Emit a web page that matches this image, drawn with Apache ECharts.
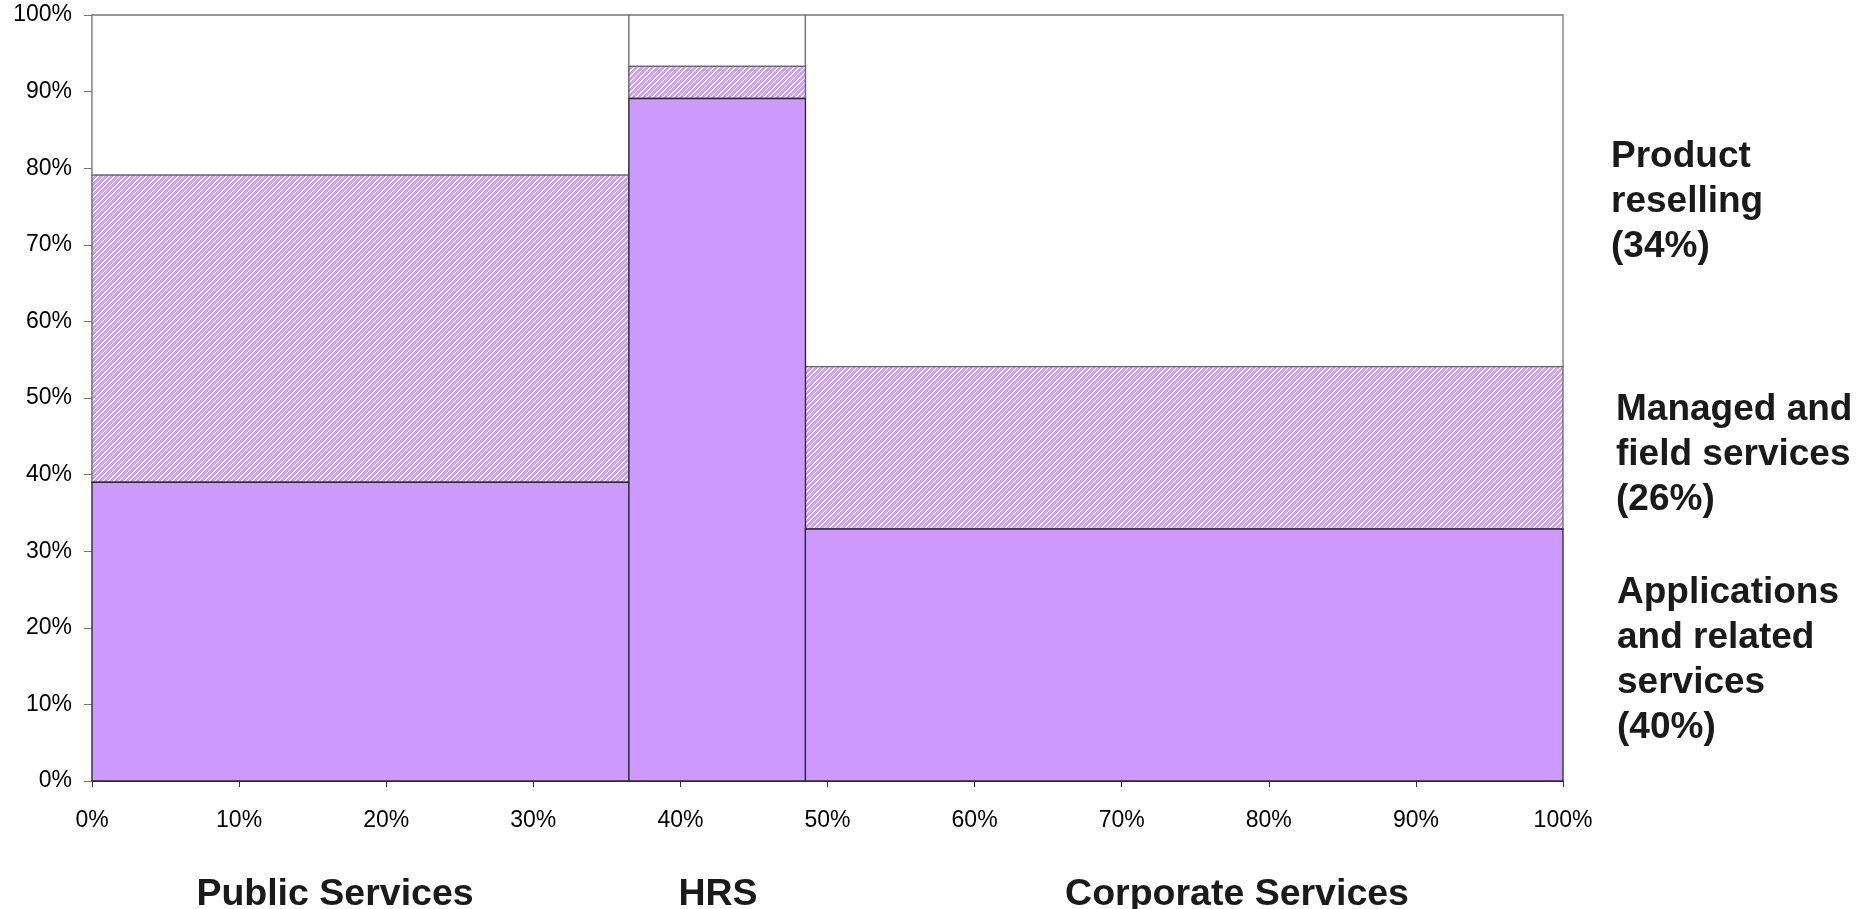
<!DOCTYPE html>
<html>
<head>
<meta charset="utf-8">
<script src="https://cdn.jsdelivr.net/npm/echarts@6/dist/echarts.min.js"></script>
<style>
  html, body { margin: 0; padding: 0; background: #fff; }
  #chart { width: 1874px; height: 909px; }
</style>
</head>
<body>
<div id="chart"></div>
<script>
// Business segments and their share of total revenue (column widths, %)
const segmentNames = ['Public Services', 'HRS', 'Corporate Services'];
const segmentShare = [36.5, 12.0, 51.5];

// Revenue mix within each segment (column heights, %)
const applications = [39.0, 89.1, 32.9];
const managedField = [40.1, 4.2, 21.2];
const reselling = [20.9, 6.7, 45.9];

// Service lines, bottom to top, with their overall share
const layerLabels = [
  ['Applications', 'and related', 'services', '(40%)'],
  ['Managed and', 'field services', '(26%)'],
  ['Product', 'reselling', '(34%)']
];

const FONT = "'Liberation Sans', Arial, Helvetica, sans-serif";
const PURPLE = '#CC99FF';

// Diagonal hatch used for managed and field services
function makeHatch() {
  const n = 16;
  const c = document.createElement('canvas');
  c.width = n; c.height = n;
  const g = c.getContext('2d');
  g.fillStyle = '#ffffff';
  g.fillRect(0, 0, n, n);
  g.strokeStyle = PURPLE;
  g.lineWidth = 2.6;
  for (let k = -1; k <= 7; k++) {
    const s = k * n / 3;
    g.beginPath();
    g.moveTo(s + 2, -2);
    g.lineTo(s - n - 2, n + 2);
    g.stroke();
  }
  return c;
}
const hatch = makeHatch();

const layerValues = [applications, managedField, reselling];
const layerFill = [PURPLE, { image: hatch, repeat: 'repeat' }, '#ffffff'];
const layerStroke = ['#2a2a2a', '#666666', '#777777'];

// Rectangles: [xStart, xEnd, yStart, yEnd, layer]; top layers are drawn first
const cells = [];
for (let k = layerValues.length - 1; k >= 0; k--) {
  let x = 0;
  for (let i = 0; i < segmentNames.length; i++) {
    let base = 0;
    for (let j = 0; j < k; j++) base += layerValues[j][i];
    cells.push([x, x + segmentShare[i], base, base + layerValues[k][i], k]);
    x += segmentShare[i];
  }
}

function renderCell(params, api) {
  const p0 = api.coord([api.value(0), api.value(2)]);
  const p1 = api.coord([api.value(1), api.value(3)]);
  const k = api.value(4);
  return {
    type: 'rect',
    shape: { x: p0[0], y: p1[1], width: p1[0] - p0[0], height: p0[1] - p1[1] },
    style: { fill: layerFill[k], stroke: layerStroke[k], lineWidth: 1.3 }
  };
}

const chart = echarts.init(document.getElementById('chart'), null, { renderer: 'canvas' });

const labelPos = [
  { x: 1617, y: 570 },
  { x: 1616, y: 387 },
  { x: 1611, y: 134 }
];
const segmentLabelX = [335, 718, 1237];

const graphics = [];
layerLabels.forEach((lines, k) => {
  graphics.push({
    type: 'text',
    left: labelPos[k].x,
    top: labelPos[k].y,
    style: {
      text: lines.join('\n'),
      font: 'bold 37px ' + FONT,
      fill: '#1a1a1a',
      lineHeight: 45
    }
  });
});
segmentNames.forEach((name, i) => {
  graphics.push({
    type: 'text',
    x: segmentLabelX[i],
    y: 895,
    style: {
      text: name,
      font: 'bold 37.5px ' + FONT,
      fill: '#1a1a1a',
      align: 'center',
      verticalAlign: 'middle'
    }
  });
});

chart.setOption({
  animation: false,
  backgroundColor: '#ffffff',
  grid: { left: 92, right: 311, top: 15, bottom: 128, containLabel: false },
  xAxis: {
    type: 'value', min: 0, max: 100, interval: 10,
    axisLine: { show: true, lineStyle: { color: '#000', width: 1.5 } },
    axisTick: { show: true, length: 6, lineStyle: { color: '#333' } },
    axisLabel: { formatter: '{value}%', fontSize: 23, color: '#000', fontFamily: FONT, margin: 28 },
    splitLine: { show: false }
  },
  yAxis: {
    type: 'value', min: 0, max: 100, interval: 10,
    axisLine: { show: true, lineStyle: { color: '#333', width: 1.3 } },
    axisTick: { show: true, length: 8, lineStyle: { color: '#777' } },
    axisLabel: { formatter: '{value}%', fontSize: 23, color: '#000', fontFamily: FONT, margin: 20 },
    splitLine: { show: false }
  },
  series: [{
    type: 'custom',
    renderItem: renderCell,
    encode: { x: [0, 1], y: [2, 3] },
    data: cells,
    silent: true
  }],
  graphic: graphics
});
</script>
</body>
</html>
